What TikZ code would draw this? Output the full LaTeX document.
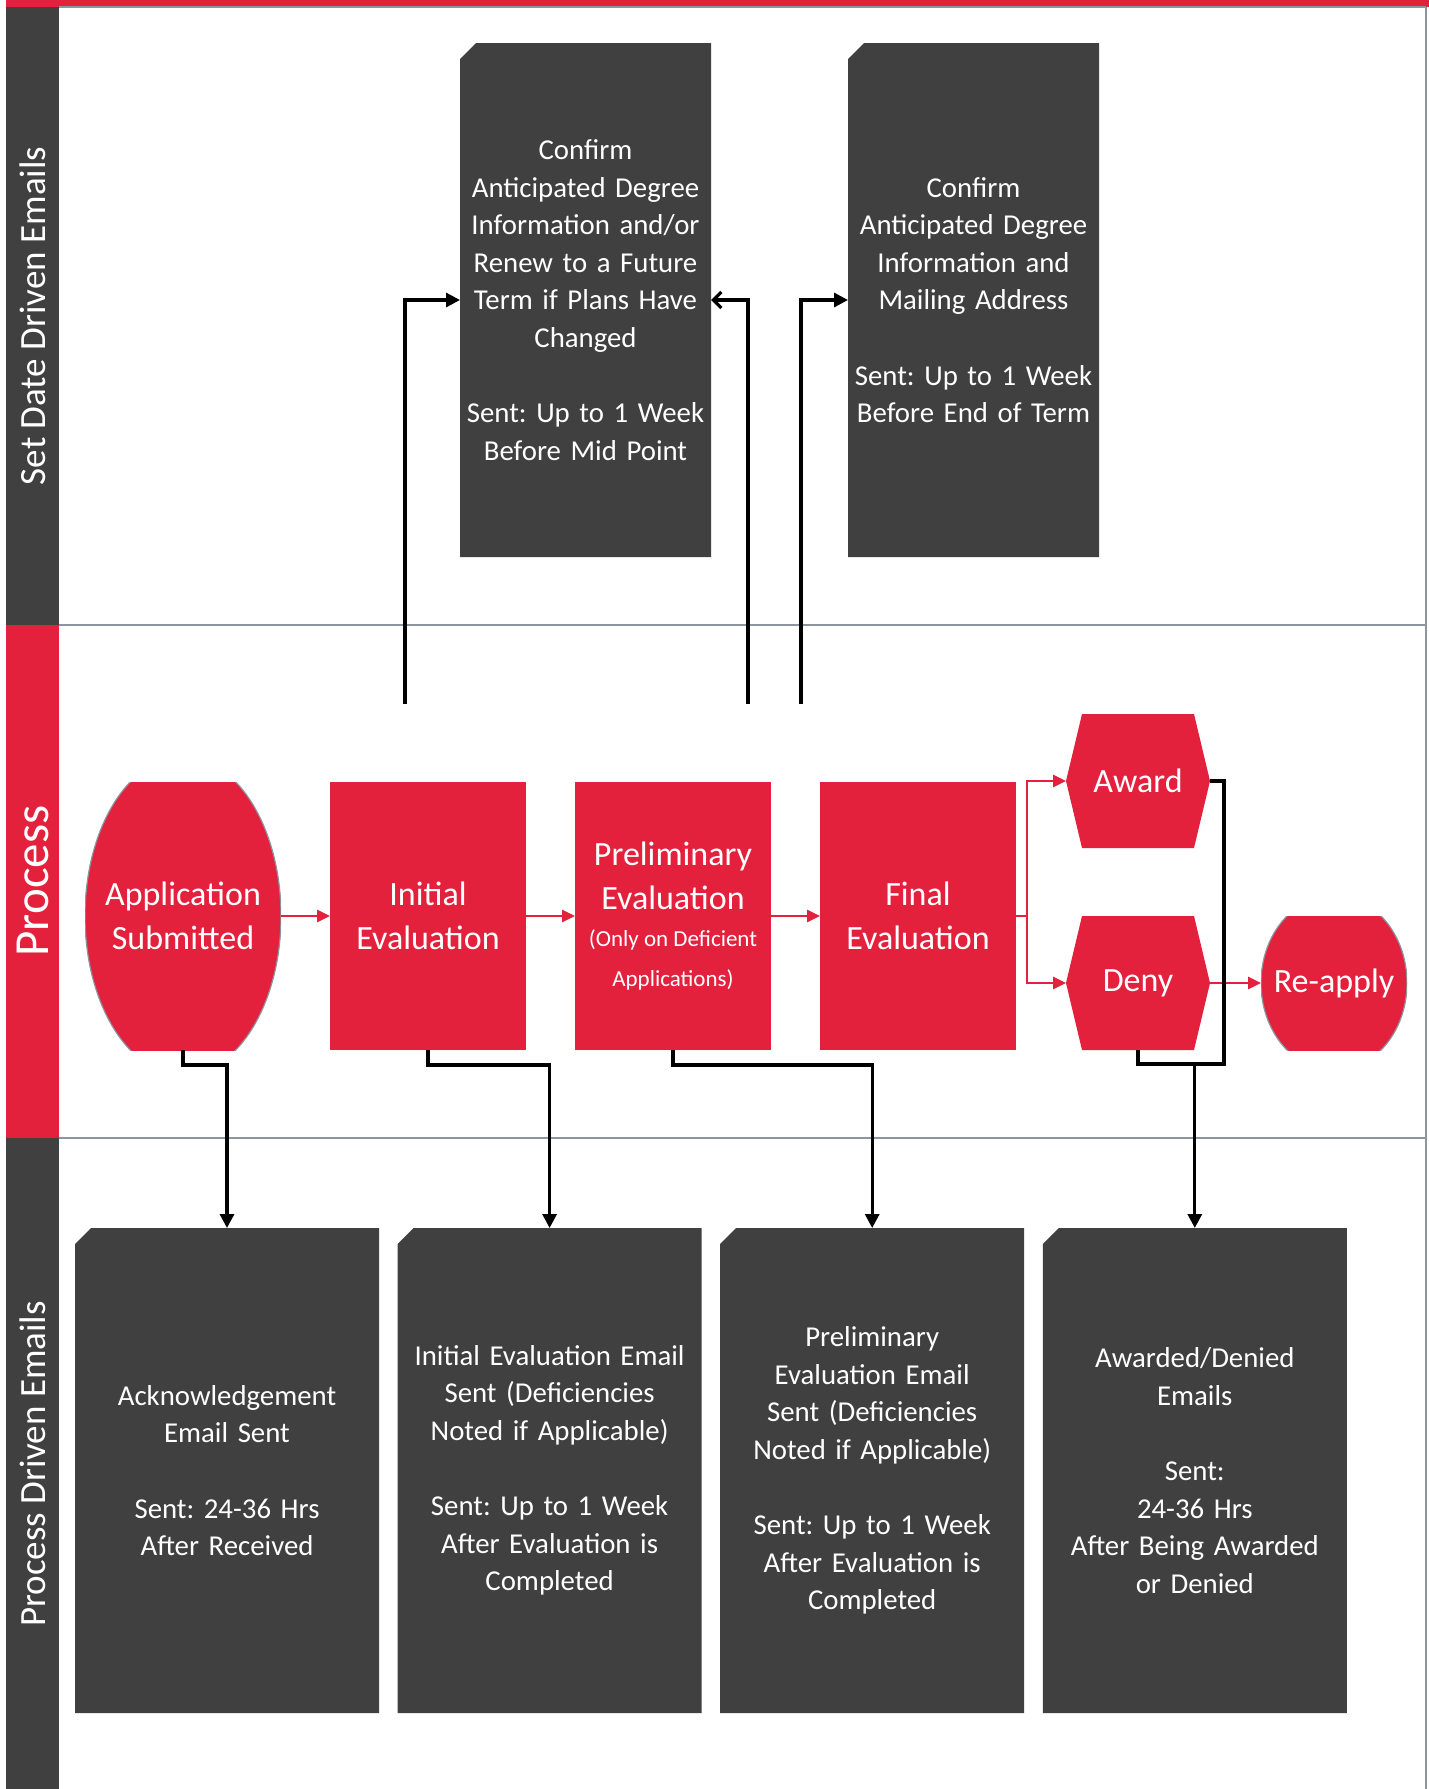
\documentclass[tikz,border=0pt]{standalone}
\usepackage{fontspec}
\setmainfont{Carlito}
\frenchspacing
\usetikzlibrary{calc}
\usetikzlibrary{positioning}
\usetikzlibrary{arrows.meta}
\definecolor{procred}{HTML}{E3213C}
\definecolor{boxgray}{HTML}{404040}
\definecolor{laneline}{HTML}{8C96A0}

\begin{document}
\begin{tikzpicture}[x=0.5pt, y=-0.5pt,
    mailbox/.style={inner sep=0pt, outer sep=0pt, align=center, text=white, font=\fontsize{14.4}{18.8}\selectfont,
        path picture={\fill[boxgray] ([xshift=8pt]path picture bounding box.north west) -- (path picture bounding box.north east)
            -- (path picture bounding box.south east) -- (path picture bounding box.south west)
            -- ([yshift=-8pt]path picture bounding box.north west) -- cycle;}},
    topmail/.style={mailbox, minimum width=125.5pt, minimum height=257pt, text width=123pt},
    botmail/.style={mailbox, minimum width=152pt, minimum height=242.5pt, text width=148pt},
    procnode/.style={minimum width=98pt, minimum height=134pt, inner sep=0pt, outer sep=0pt, fill=procred, text=white, align=center, font=\fontsize{17}{22.2}\selectfont},
    ovalnode/.style n args={4}{procnode, fill=none, minimum width=#1, minimum height=#2,
        path picture={\filldraw[fill=procred, draw=laneline, line width=0.6pt] (path picture bounding box.center) ellipse [x radius=#3, y radius=#4];}},
    hexnode/.style={procnode, fill=none, minimum width=72pt, minimum height=67pt,
        path picture={\fill[procred] (path picture bounding box.west) -- ([xshift=8pt]path picture bounding box.north west)
            -- ([xshift=-8pt]path picture bounding box.north east) -- (path picture bounding box.east)
            -- ([xshift=-8pt]path picture bounding box.south east) -- ([xshift=8pt]path picture bounding box.south west) -- cycle;}},
    lanelabel/.style={rotate=90, text=white, font=\fontsize{18.5}{22}\selectfont},
    redline/.style={draw=procred, line width=1.4pt},
    redarrow/.style={redline, -{Triangle[length=6.5pt, width=6pt]}},
    blackline/.style={line width=1.6pt},
    blackarrow/.style={blackline, -{Triangle[length=7pt, width=7pt]}}]
    \useasboundingbox (0,0) rectangle (1429,1789);

    % swim lanes
    \fill[procred] (6,0) rectangle (1429,7);
    \fill[boxgray] (6,7) rectangle (59,625);
    \fill[procred] (6,625) rectangle (59,1138);
    \fill[boxgray] (6,1138) rectangle (59,1789);
    \draw[laneline, line width=0.8pt] (59,7) -- (1426,7) (59,625) -- (1426,625) (59,1138) -- (1426,1138) (1426,7) -- (1426,1789);

    \node[lanelabel] (datelane) at (32.5,316) {Set Date Driven Emails};
    \node[lanelabel, font=\fontsize{24.5}{29}\selectfont] (proclane) at (32.5,881) {Process};
    \node[lanelabel] (maillane) at (32.5,1464) {Process Driven Emails};

    % set date driven emails
    \node[topmail] (midnode) at (585.5,300) {Confirm\\Anticipated Degree\\Information and/or\\Renew to a Future\\Term if Plans Have\\Changed\\[18.8pt]Sent: Up to 1 Week\\Before Mid Point};
    \node[topmail] (endnode) [right=68.5pt of midnode] {Confirm\\Anticipated Degree\\Information and\\Mailing Address\\[18.8pt]Sent: Up to 1 Week\\Before End of Term};

    % process
    \node[ovalnode={98pt}{134pt}{49pt}{79.5pt}] (appnode) at (183,916) {Application\\Submitted};
    \node[procnode] (initnode) [right=24.5pt of appnode] {Initial\\Evaluation};
    \node[procnode] (prelimnode) [right=24.5pt of initnode] {Preliminary\\Evaluation\\[-3.45pt]{\fontsize{11.5}{14}\selectfont (Only on Deficient}\\[-2.2pt]{\fontsize{11.5}{14}\selectfont Applications)}};
    \node[procnode] (finalnode) [right=24.5pt of prelimnode] {Final\\Evaluation};
    \node[hexnode] (awardnode) [right=25pt of finalnode, yshift=67.5pt] {Award};
    \node[hexnode] (denynode) [right=25pt of finalnode, yshift=-33.5pt] {Deny};
    \node[ovalnode={73pt}{67pt}{36.5pt}{43.8pt}] (reapplynode) [right=25.5pt of denynode] {Re-apply};

    % process driven emails
    \node[botmail] (acknode) at (227,1470.5) {Acknowledgement\\Email Sent\\[18.8pt]Sent: 24-36 Hrs\\After Received};
    \node[botmail] (initmail) [right=9.3pt of acknode] {Initial Evaluation Email\\Sent (Deficiencies\\Noted if Applicable)\\[18.8pt]Sent: Up to 1 Week\\After Evaluation is\\Completed};
    \node[botmail] (prelimmail) [right=9.3pt of initmail] {Preliminary\\Evaluation Email\\Sent (Deficiencies\\Noted if Applicable)\\[18.8pt]Sent: Up to 1 Week\\After Evaluation is\\Completed};
    \node[botmail] (awardmail) [right=9.3pt of prelimmail] {Awarded/Denied\\Emails\\[18.8pt]Sent:\\24-36 Hrs\\After Being Awarded\\or Denied};

    \draw[redarrow] (appnode) -- (initnode);
    \draw[redarrow] (initnode) -- (prelimnode);
    \draw[redarrow] (prelimnode) -- (finalnode);
    \coordinate (split) at ([xshift=5.5pt]finalnode.east);
    \draw[redline] (finalnode.east) -- (split);
    \draw[redarrow] (split) |- (awardnode.west);
    \draw[redarrow] (split) |- (denynode.west);
    \draw[redarrow] (denynode) -- (reapplynode);

    \coordinate (midleft) at (405,704);
    \coordinate (midright) at (748,704);
    \coordinate (endleft) at (801,704);
    \draw[blackarrow] (midleft) |- (midnode.west);
    \draw[blackline, -{Straight Barb[length=4pt, width=8pt]}] (midright) |- (midnode.east);
    \draw[blackarrow] (endleft) |- (endnode.west);

    \draw[blackarrow] (appnode.south) -- ++(0,15) -| (acknode.north);
    \draw[blackarrow] (initnode.south) -- ++(0,15) -| (initmail.north);
    \draw[blackarrow] (prelimnode.south) -- ++(0,15) -| (prelimmail.north);
    \coordinate (join) at (1224,1064);
    \draw[blackline] (awardnode.east) -| (join) -| (denynode.south);
    \draw[blackarrow] (awardmail.north |- join) -- (awardmail.north);
\end{tikzpicture}
\end{document}
